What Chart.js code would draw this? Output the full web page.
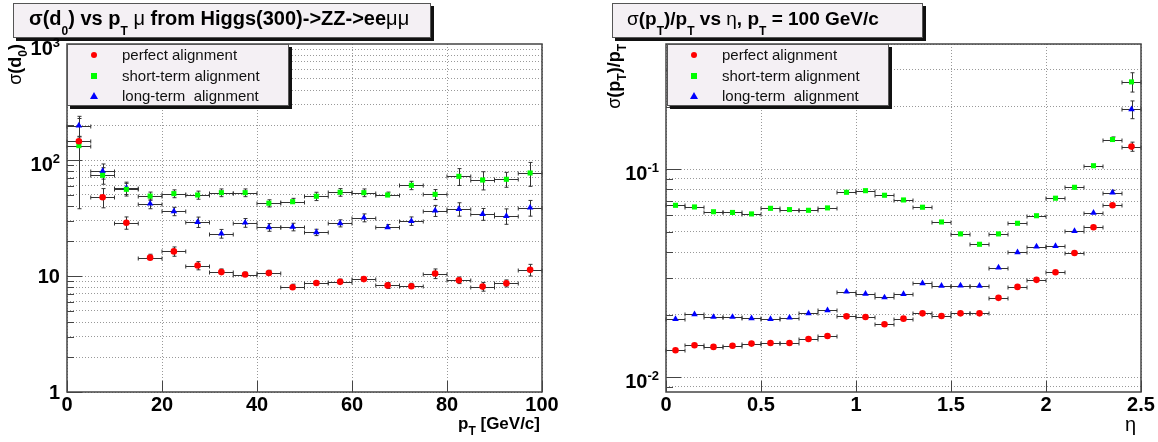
<!DOCTYPE html>
<html>
<head>
<meta charset="utf-8">
<script src="https://cdn.jsdelivr.net/npm/chart.js@4.4.1/dist/chart.umd.min.js"></script>
<style>
  body { margin: 0; background: #fff; font-family: "Liberation Sans", Arial, sans-serif; }
  #page { position: relative; width: 1158px; height: 442px; overflow: hidden; background: #fff; }
  #page canvas { position: absolute; top: 0; }
  .pave { position: absolute; background: #f4f0f4; border: 1px solid #555; box-shadow: 3px 3px 0 #111; box-sizing: border-box; }
  .title { position: absolute; font-weight: bold; font-size: 19px; line-height: 31px; white-space: nowrap; color: #000; }
  .sym { font-weight: normal; }
  sub { font-size: 12px; vertical-align: -10px; line-height: 0; }
  sup { font-size: 13px; vertical-align: 8px; line-height: 0; }
  .ylab { position: absolute; font-weight: bold; font-size: 20px; line-height: 24px; white-space: nowrap; color: #000; }
  .axtitle { position: absolute; font-weight: bold; font-size: 17px; line-height: 20px; white-space: nowrap; color: #000; }
  .axtitle sub { font-size: 12px; vertical-align: -6px; }
  .ytitle { position: absolute; width: 120px; text-align: right; font-weight: bold; font-size: 18px; line-height: 18px;
            white-space: nowrap; transform-origin: 0 0; transform: rotate(-90deg); }
  .ytitle sub { font-size: 12px; vertical-align: -6px; }
  .legrow { position: absolute; left: 0; height: 20px; line-height: 20px; font-size: 15px; color: #111; white-space: nowrap; }
  .legrow span.txt { position: absolute; left: 54px; }
  .mk { position: absolute; top: 7px; }
  .mk.circle { left: 23px; width: 6px; height: 6px; border-radius: 50%; background: #ff0000; }
  .mk.square { left: 23px; width: 6px; height: 6px; background: #00ff00; }
  .mk.triangle { left: 22px; top: 6px; width: 0; height: 0; border-left: 4px solid transparent; border-right: 4px solid transparent; border-bottom: 7px solid #0000ff; }
</style>
</head>
<body>
<div id="page">
  <canvas id="d0Chart" width="580" height="442" style="left:0"></canvas>
  <canvas id="ptChart" width="578" height="442" style="left:580px"></canvas>

  <div class="pave" style="left:13px;top:3px;width:418px;height:35px"></div>
  <div class="title" style="left:29px;top:3px;font-size:20px">σ(d<sub>0</sub>) vs p<sub>T</sub> <span class="sym">μ</span> from Higgs(300)-&gt;ZZ-&gt;ee<span class="sym">μμ</span></div>

  <div class="pave" style="left:612px;top:3px;width:311px;height:35px"></div>
  <div class="title" style="left:627px;top:3px"><span class="sym">σ</span>(p<sub>T</sub>)/p<sub>T</sub> vs <span class="sym">η</span>, p<sub>T</sub> = 100 GeV/c</div>

  <div class="ytitle" style="left:6px;top:164px"><span class="sym">σ</span>(d<sub>0</sub>)</div>
  <div class="ytitle" style="left:605px;top:164px"><span class="sym">σ</span>(p<sub>T</sub>)/p<sub>T</sub></div>

  <div class="axtitle" style="right:618px;top:414px">p<sub>T</sub> [GeV/c]</div>
  <div class="axtitle" style="left:1125px;top:414px;font-weight:normal;font-size:20px">η</div>
</div>

<script>
// log-scale significands used for grid lines
const SIGNIFICANDS = [1, 2, 3, 4, 5, 6, 7, 8, 9];

// ---- sigma(d0) vs pT ----
const ptBins = [2.5, 7.5, 12.5, 17.5, 22.5, 27.5, 32.5, 37.5, 42.5, 47.5,
                52.5, 57.5, 62.5, 67.5, 72.5, 77.5, 82.5, 87.5, 92.5, 97.5];
const ptTicks = [0, 20, 40, 60, 80, 100];

const d0Perfect    = [145, 47.7, 28.8, 14.4, 16.3, 12.3, 10.8, 10.3, 10.6, 8.0,
                      8.7, 8.9, 9.4, 8.3, 8.15, 10.5, 9.2, 8.1, 8.65, 11.3];
const d0PerfectErr = [15, 9, 3.5, 1, 1.5, 1, 0.7, 0.5, 0.6, 0.5,
                      0.4, 0.5, 0.5, 0.5, 0.5, 1, 0.6, 0.7, 0.6, 1.3];
const d0Short      = [133, 73.8, 55.9, 48.9, 51.3, 49.9, 52.3, 52.3, 42.4, 43.7,
                      48.7, 52.7, 52.3, 49.9, 60.5, 50.6, 72.3, 67.2, 68.2, 77.3];
const d0ShortErr   = [95, 12, 7, 4, 4, 4, 4, 4, 3, 3,
                      4, 4, 4, 3, 5, 5, 12, 12, 10, 18];
const d0Long       = [198, 80.4, 57.4, 42, 36.1, 29.2, 23.2, 28.8, 26.3, 26.5,
                      23.8, 28.5, 31.8, 26.3, 29.8, 36.6, 37.8, 34.2, 32.9, 38.8];
const d0LongErr    = [40, 12, 7, 4, 3, 3, 2, 2.5, 2, 2,
                      1.5, 2, 2.5, 1.5, 2.5, 4, 5, 4, 5, 6];

const d0Decades = [1, 10, 100];
const d0Labels = ["1", "10", "10<sup>2</sup>", "10<sup>3</sup>"];
const d0LabelValues = [1, 10, 100, 1000];

// ---- sigma(pT)/pT vs eta ----
const etaBins = [0.05, 0.15, 0.25, 0.35, 0.45, 0.55, 0.65, 0.75, 0.85, 0.95,
                 1.05, 1.15, 1.25, 1.35, 1.45, 1.55, 1.65, 1.75, 1.85, 1.95,
                 2.05, 2.15, 2.25, 2.35, 2.45];
const etaTicks = [0, 0.5, 1, 1.5, 2, 2.5];

const resPerfect = [0.01349, 0.01426, 0.0140, 0.01419, 0.01452, 0.01462, 0.01462, 0.01528, 0.0158, 0.01963,
                    0.0195, 0.0180, 0.01914, 0.0203, 0.0197, 0.0203, 0.0203, 0.0241, 0.0272, 0.0294,
                    0.0320, 0.0396, 0.0526, 0.0671, 0.1285];
const resPerfectErr = [0, 0, 0, 0, 0, 0, 0, 0, 0, 0, 0, 0, 0, 0, 0, 0, 0, 0, 0, 0, 0, 0, 0, 0.001, 0.0065];
const resShort   = [0.0671, 0.0659, 0.0625, 0.0620, 0.0610, 0.0649, 0.0640, 0.0635, 0.0652, 0.0775,
                    0.0789, 0.0750, 0.0712, 0.0657, 0.0558, 0.0489, 0.0436, 0.0489, 0.0550, 0.0598,
                    0.0726, 0.0819, 0.1040, 0.139, 0.263];
const resShortErr = [0, 0, 0, 0, 0, 0, 0, 0, 0, 0, 0, 0, 0, 0, 0, 0, 0, 0, 0, 0, 0, 0, 0, 0.004, 0.028];
const resLong    = [0.01905, 0.0201, 0.0195, 0.0195, 0.01923, 0.01905, 0.01934, 0.0203, 0.0210, 0.0258,
                    0.0252, 0.0242, 0.0251, 0.0283, 0.0275, 0.0276, 0.0275, 0.0337, 0.0399, 0.0425,
                    0.0427, 0.0505, 0.0618, 0.0772, 0.194];
const resLongErr = [0, 0, 0, 0, 0, 0, 0, 0, 0, 0, 0, 0, 0, 0, 0, 0, 0, 0, 0, 0, 0, 0, 0, 0.002, 0.019];

const resDecades = [0.001, 0.01, 0.1];
const resLabels = ["10<sup>-2</sup>", "10<sup>-1</sup>"];
const resLabelValues = [0.01, 0.1];

const legendNames = ["perfect alignment", "short-term alignment", "long-term  alignment"];

function logTicks(decades, min, max) {
  const out = [];
  decades.forEach(d => SIGNIFICANDS.forEach(s => {
    const v = +(s * d).toPrecision(3);
    if (v >= min - 1e-12 && v <= max + 1e-12) out.push(v);
  }));
  return out;
}

// x and y error bars with small end caps, under the markers
const errorBars = {
  id: 'errorBars',
  beforeDatasetsDraw(chart, args, opts) {
    const { ctx, scales: { x, y } } = chart;
    ctx.save();
    ctx.strokeStyle = '#333';
    ctx.lineWidth = 1;
    const seg = (x0, y0, x1, y1) => { ctx.beginPath(); ctx.moveTo(x0, y0); ctx.lineTo(x1, y1); ctx.stroke(); };
    chart.data.datasets.forEach(ds => {
      ds.data.forEach((p, i) => {
        const px = Math.round(x.getPixelForValue(p.x)) + 0.5;
        const py = Math.round(y.getPixelForValue(p.y)) + 0.5;
        const xl = x.getPixelForValue(p.x - opts.half);
        const xr = x.getPixelForValue(p.x + opts.half);
        seg(xl, py, xr, py);
        seg(xl, py - 2, xl, py + 2);
        seg(xr, py - 2, xr, py + 2);
        const e = ds.errors[i];
        if (e) {
          const yt = y.getPixelForValue(p.y + e);
          const yb = y.getPixelForValue(Math.max(p.y - e, y.min));
          if (py - yt > 3) { seg(px, yt, px, py); seg(px - 2, yt, px + 2, yt); }
          if (yb - py > 3) { seg(px, py, px, yb); seg(px - 2, yb, px + 2, yb); }
        }
      });
    });
    ctx.restore();
  }
};

// frame and inward tick marks
const rootFrame = {
  id: 'rootFrame',
  afterDraw(chart) {
    const { ctx, chartArea: a, scales: { x, y } } = chart;
    ctx.save();
    ctx.strokeStyle = '#444';
    ctx.lineWidth = 1;
    y.ticks.forEach(t => {
      const py = Math.round(y.getPixelForValue(t.value)) + 0.5;
      const major = Math.abs(Math.log10(t.value) - Math.round(Math.log10(t.value))) < 1e-6;
      ctx.beginPath();
      ctx.moveTo(a.left, py);
      ctx.lineTo(a.left + (major ? 15 : 7), py);
      ctx.stroke();
    });
    x.ticks.forEach(t => {
      const px = Math.round(x.getPixelForValue(t.value)) + 0.5;
      ctx.beginPath();
      ctx.moveTo(px, a.bottom);
      ctx.lineTo(px, a.bottom - 11);
      ctx.stroke();
    });
    ctx.lineWidth = 1.5;
    ctx.strokeRect(a.left, a.top, a.right - a.left, a.bottom - a.top);
    ctx.restore();
  }
};

function buildChart(id, cfg) {
  const series = [
    { values: cfg.perfect, errors: cfg.perfectErr, style: 'circle', radius: 3.3, color: '#ff0000' },
    { values: cfg.short, errors: cfg.shortErr, style: 'rect', radius: 3.6, color: '#00ff00' },
    { values: cfg.long, errors: cfg.longErr, style: 'triangle', radius: 3.8, color: '#0000ff' }
  ];
  return new Chart(document.getElementById(id), {
    type: 'scatter',
    data: {
      datasets: series.map((s, k) => ({
        label: legendNames[k],
        data: cfg.xs.map((x, i) => ({ x: x, y: s.values[i] })),
        errors: s.errors,
        pointStyle: s.style,
        pointRadius: s.radius,
        backgroundColor: s.color,
        borderWidth: 0
      }))
    },
    options: {
      responsive: false,
      animation: false,
      events: [],
      layout: { padding: { left: 0, right: cfg.padRight, top: 44, bottom: 0 } },
      plugins: {
        legend: { display: false },
        tooltip: { enabled: false },
        errorBars: { half: cfg.half }
      },
      scales: {
        x: {
          type: 'linear',
          min: cfg.xTicks[0],
          max: cfg.xTicks[cfg.xTicks.length - 1],
          afterFit: s => { s.height = 50; },
          afterBuildTicks: s => { s.ticks = cfg.xTicks.map(v => ({ value: v })); },
          ticks: {
            autoSkip: false, maxRotation: 0, padding: 1, color: '#000',
            font: { family: 'Liberation Sans', size: 20, weight: 'bold' },
            callback: v => String(v)
          },
          grid: { color: '#999', drawTicks: false },
          border: { display: false, dash: [1, 2] }
        },
        y: {
          type: 'logarithmic',
          min: cfg.yMin,
          max: cfg.yMax,
          afterFit: s => { s.width = cfg.axisWidth; },
          afterBuildTicks: s => { s.ticks = logTicks(cfg.decades, cfg.yMin, cfg.yMax).map(v => ({ value: v })); },
          ticks: { display: false },
          grid: { color: '#999', drawTicks: false },
          border: { display: false, dash: [1, 2] }
        }
      }
    },
    plugins: [errorBars, rootFrame]
  });
}

const page = document.getElementById('page');

function addYLabels(chart, offsetLeft, values, texts) {
  const y = chart.scales.y;
  values.forEach((v, i) => {
    const d = document.createElement('div');
    d.className = 'ylab';
    d.innerHTML = texts[i];
    const right = offsetLeft + chart.chartArea.left - 7;
    d.style.right = (1158 - right) + 'px';
    d.style.top = (y.getPixelForValue(v) - 12 + (texts[i].includes('sup') ? 4 : 0)) + 'px';
    page.appendChild(d);
  });
}

function addLegend(left, top, width, height) {
  const box = document.createElement('div');
  box.className = 'pave';
  Object.assign(box.style, { left: left + 'px', top: top + 'px', width: width + 'px', height: height + 'px' });
  const shapes = ['circle', 'square', 'triangle'];
  const rowTops = [0, 20.5, 41];
  legendNames.forEach((name, k) => {
    const row = document.createElement('div');
    row.className = 'legrow';
    row.style.top = rowTops[k] + 'px';
    row.innerHTML = '<span class="mk ' + shapes[k] + '"></span><span class="txt">' + name.replace(/  /g, ' &nbsp;') + '</span>';
    box.appendChild(row);
  });
  page.appendChild(box);
}

const d0Chart = buildChart('d0Chart', {
  xs: ptBins, xTicks: ptTicks, half: 2.5,
  perfect: d0Perfect, perfectErr: d0PerfectErr,
  short: d0Short, shortErr: d0ShortErr,
  long: d0Long, longErr: d0LongErr,
  yMin: 1, yMax: 1000, decades: d0Decades,
  axisWidth: 67, padRight: 38
});

const ptChart = buildChart('ptChart', {
  xs: etaBins, xTicks: etaTicks, half: 0.05,
  perfect: resPerfect, perfectErr: resPerfectErr,
  short: resShort, shortErr: resShortErr,
  long: resLong, longErr: resLongErr,
  yMin: 0.0085, yMax: 0.4, decades: resDecades,
  axisWidth: 86, padRight: 17
});

addYLabels(d0Chart, 0, d0LabelValues, d0Labels);
addYLabels(ptChart, 580, resLabelValues, resLabels);
addLegend(67, 44, 222, 62);
addLegend(667, 44, 222, 62);
</script>
</body>
</html>
